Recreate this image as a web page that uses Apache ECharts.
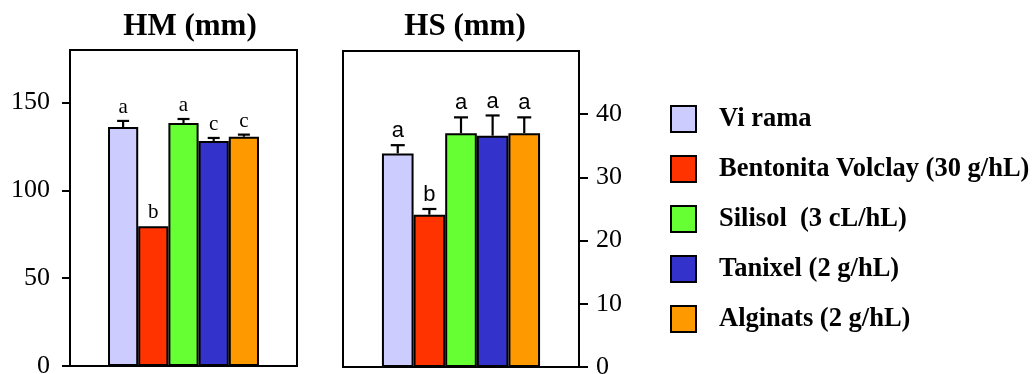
<!DOCTYPE html>
<html>
<head>
<meta charset="utf-8">
<script src="https://cdn.jsdelivr.net/npm/echarts@6/dist/echarts.min.js"></script>
<style>
  html, body { margin: 0; padding: 0; background: #fff; }
  #chart { width: 1034px; height: 374px; }
</style>
</head>
<body>
<div id="chart"></div>
<script>
// Treatments (one bar per treatment in each panel)
const treatments = ['Vi rama', 'Bentonita Volclay (30 g/hL)', 'Silisol  (3 cL/hL)', 'Tanixel (2 g/hL)', 'Alginats (2 g/hL)'];
const colors = ['#CCCCFF', '#FF3300', '#66FF33', '#3333CC', '#FF9900'];

// HM (mm): means, upper error and significance letters
const hmMeans = [136.1, 79.6, 138.4, 128.2, 130.6];
const hmErrors = [3.5, 0, 2.3, 1.7, 1.2];
const hmLetters = ['a', 'b', 'a', 'c', 'c'];
const hmTicks = [0, 50, 100, 150];

// HS (mm)
const hsMeans = [33.8, 24.1, 37.0, 36.6, 37.0];
const hsErrors = [1.3, 0.9, 2.5, 3.2, 2.5];
const hsLetters = ['a', 'b', 'a', 'a', 'a'];
const hsTicks = [0, 10, 20, 30, 40];

const SERIF = '"Liberation Serif", "Times New Roman", serif';
const SANS = '"Liberation Sans", Arial, sans-serif';
const GAP_HM = 0.335;
const GAP_HS = 0.33;

// Upper error whisker with cap plus the letter above it
function errorRenderer(gap, capW, letters, font) {
  return function (params, api) {
    const idx = api.value(3);
    const mean = api.value(1);
    const err = api.value(2);
    const n = treatments.length;
    const band = api.size([1, 0])[0];
    const w = band * (1 - gap) / n;
    const base = api.coord([0, mean]);
    const x = base[0] + (idx - (n - 1) / 2) * w;
    const yTop = api.coord([0, mean + err])[1];
    const children = [];
    if (err > 0) {
      children.push({ type: 'line', shape: { x1: x, y1: base[1], x2: x, y2: yTop }, style: { stroke: '#000', lineWidth: 2.2 } });
      children.push({ type: 'line', shape: { x1: x - capW / 2, y1: yTop, x2: x + capW / 2, y2: yTop }, style: { stroke: '#000', lineWidth: 2.2 } });
    }
    children.push({
      type: 'text',
      style: { text: letters[idx], x: x, y: yTop - 3, align: 'center', verticalAlign: 'bottom', font: font, fill: '#000' }
    });
    return { type: 'group', children: children };
  };
}

const barSeries = [];
treatments.forEach(function (name, i) {
  barSeries.push({
    name: name, type: 'bar', xAxisIndex: 0, yAxisIndex: 0,
    data: [hmMeans[i]], barGap: '0%', barCategoryGap: (GAP_HM * 100) + '%',
    itemStyle: { color: colors[i], borderColor: '#000', borderWidth: 2 }
  });
});
treatments.forEach(function (name, i) {
  barSeries.push({
    name: name, type: 'bar', xAxisIndex: 1, yAxisIndex: 1,
    data: [hsMeans[i]], barGap: '0%', barCategoryGap: (GAP_HS * 100) + '%',
    itemStyle: { color: colors[i], borderColor: '#000', borderWidth: 2 }
  });
});

const chart = echarts.init(document.getElementById('chart'), null, { renderer: 'canvas' });
chart.setOption({
  animation: false,
  backgroundColor: '#fff',
  color: colors,
  title: [
    { text: 'HM (mm)', left: 190, top: 10, padding: 0, textAlign: 'center',
      textStyle: { fontFamily: SERIF, fontWeight: 'bold', fontSize: 31, color: '#000', lineHeight: 34 } },
    { text: 'HS (mm)', left: 465, top: 10, padding: 0, textAlign: 'center',
      textStyle: { fontFamily: SERIF, fontWeight: 'bold', fontSize: 31, color: '#000', lineHeight: 34 } }
  ],
  legend: {
    data: treatments,
    orient: 'vertical',
    left: 670, top: 105,
    padding: 0,
    itemWidth: 25, itemHeight: 26, itemGap: 22,
    icon: 'rect',
    selectedMode: false,
    itemStyle: { borderColor: '#000', borderWidth: 2 },
    textStyle: { fontFamily: SERIF, fontWeight: 'bold', fontSize: 26.5, color: '#000', padding: [0, 0, 0, 18], lineHeight: 26 }
  },
  grid: [
    { left: 70, top: 50, width: 227, height: 316, show: true, borderColor: '#000', borderWidth: 2, backgroundColor: 'transparent', containLabel: false, outerBoundsMode: 'none' },
    { left: 343, top: 51, width: 236, height: 316, show: true, borderColor: '#000', borderWidth: 2, backgroundColor: 'transparent', containLabel: false, outerBoundsMode: 'none' }
  ],
  xAxis: [
    { gridIndex: 0, type: 'category', data: [''], axisLine: { show: true, lineStyle: { color: '#000', width: 2 } }, axisTick: { show: false }, axisLabel: { show: false }, splitLine: { show: false } },
    { gridIndex: 1, type: 'category', data: [''], axisLine: { show: true, lineStyle: { color: '#000', width: 2 } }, axisTick: { show: false }, axisLabel: { show: false }, splitLine: { show: false } }
  ],
  yAxis: [
    { gridIndex: 0, type: 'value', position: 'left', min: 0, max: 180, interval: 50,
      axisLine: { show: true, lineStyle: { color: '#000', width: 2 } },
      axisTick: { show: true, inside: false, length: 8, lineStyle: { color: '#000', width: 2 }, customValues: hmTicks },
      axisLabel: { customValues: hmTicks, fontFamily: SERIF, fontSize: 26, color: '#000', margin: 20 },
      splitLine: { show: false } },
    { gridIndex: 1, type: 'value', position: 'right', min: 0, max: 50, interval: 10,
      axisLine: { show: true, lineStyle: { color: '#000', width: 2 } },
      axisTick: { show: true, inside: false, length: 9, lineStyle: { color: '#000', width: 2 }, customValues: hsTicks },
      axisLabel: { customValues: hsTicks, fontFamily: SERIF, fontSize: 26, color: '#000', margin: 17 },
      splitLine: { show: false } }
  ],
  series: barSeries.concat([
    { type: 'custom', xAxisIndex: 0, yAxisIndex: 0, z: 5,
      renderItem: errorRenderer(GAP_HM, 12, hmLetters, '21px ' + SERIF),
      encode: { x: 0, y: 1 },
      data: hmMeans.map(function (m, i) { return [0, m, hmErrors[i], i]; }) },
    { type: 'custom', xAxisIndex: 1, yAxisIndex: 1, z: 5,
      renderItem: errorRenderer(GAP_HS, 14, hsLetters, '22px ' + SANS),
      encode: { x: 0, y: 1 },
      data: hsMeans.map(function (m, i) { return [0, m, hsErrors[i], i]; }) }
  ])
});
</script>
</body>
</html>
